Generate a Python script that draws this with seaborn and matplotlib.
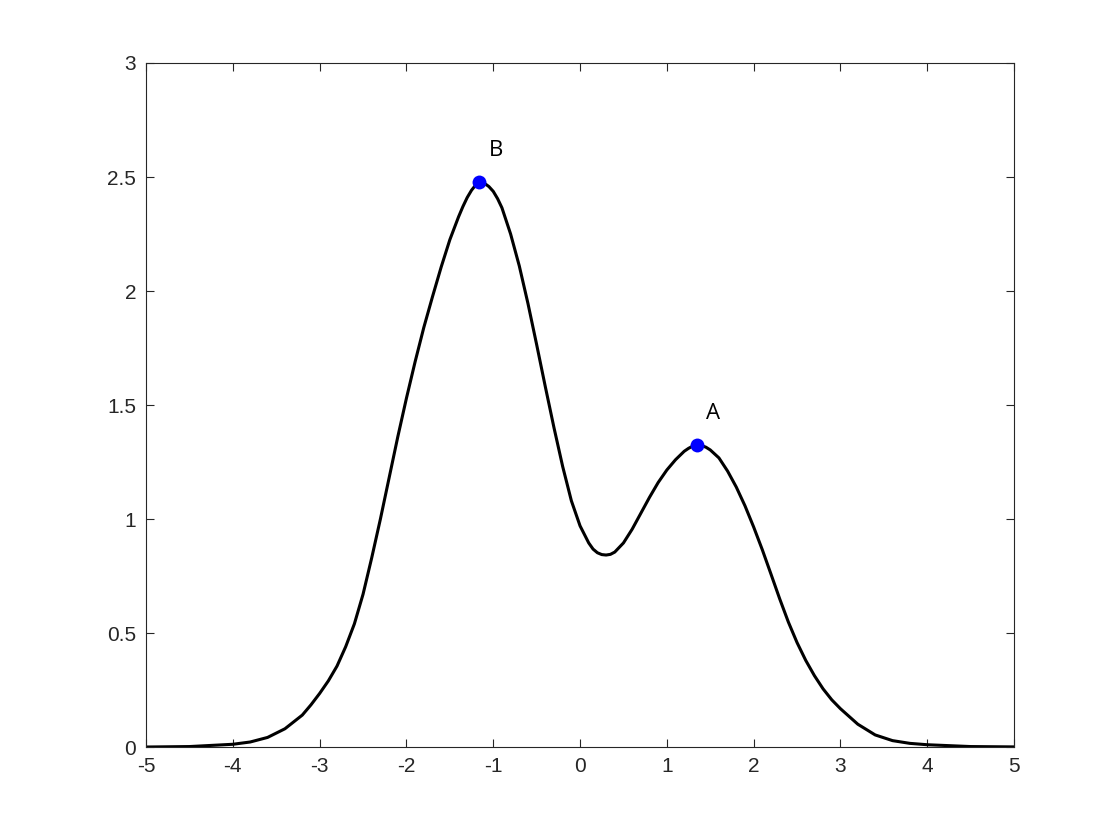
import numpy as np
import pandas as pd
import matplotlib
matplotlib.use("Agg")
import matplotlib.pyplot as plt
import seaborn as sns

# Curve values
curve_x = [-5.0, -4.5, -4.0, -3.8, -3.6, -3.4, -3.2, -3.1, -3.0, -2.9,
           -2.8, -2.7, -2.6, -2.5, -2.4, -2.3, -2.2, -2.1, -2.0, -1.9,
           -1.8, -1.7, -1.6, -1.5, -1.4, -1.35, -1.3, -1.25, -1.2, -1.16,
           -1.1, -1.05, -1.0, -0.95, -0.9, -0.8, -0.7, -0.6, -0.5, -0.4,
           -0.3, -0.2, -0.1, 0.0, 0.1, 0.15, 0.2, 0.25, 0.3, 0.35,
           0.4, 0.5, 0.6, 0.7, 0.8, 0.9, 1.0, 1.1, 1.2, 1.25,
           1.3, 1.344, 1.4, 1.45, 1.5, 1.6, 1.7, 1.8, 1.9, 2.0,
           2.1, 2.2, 2.3, 2.4, 2.5, 2.6, 2.7, 2.8, 2.9, 3.0,
           3.2, 3.4, 3.6, 3.8, 4.0, 4.5, 5.0]
curve_y = [0.000, 0.002, 0.012, 0.022, 0.042, 0.080, 0.140, 0.185, 0.235, 0.290,
           0.355, 0.440, 0.540, 0.670, 0.830, 1.000, 1.180, 1.360, 1.530, 1.690,
           1.840, 1.975, 2.105, 2.225, 2.325, 2.370, 2.410, 2.442, 2.466, 2.478,
           2.472, 2.458, 2.437, 2.405, 2.365, 2.250, 2.110, 1.945, 1.765, 1.580,
           1.400, 1.230, 1.080, 0.970, 0.895, 0.868, 0.852, 0.844, 0.842, 0.845,
           0.855, 0.895, 0.955, 1.025, 1.095, 1.160, 1.215, 1.260, 1.297, 1.310,
           1.320, 1.325, 1.322, 1.315, 1.303, 1.268, 1.210, 1.140, 1.058, 0.965,
           0.865, 0.758, 0.650, 0.548, 0.458, 0.380, 0.313, 0.255, 0.207, 0.168,
           0.100, 0.053, 0.028, 0.016, 0.010, 0.002, 0.0005]

peak_labels = ["B", "A"]
peak_x = [-1.16, 1.344]
peak_y = [2.478, 1.325]

x_ticks = [-5, -4, -3, -2, -1, 0, 1, 2, 3, 4, 5]
y_ticks = [0, 0.5, 1, 1.5, 2, 2.5, 3]
y_tick_labels = ["0", "0.5", "1", "1.5", "2", "2.5", "3"]

sns.set_style("ticks")
plt.rcParams['font.family'] = ['Liberation Sans', 'DejaVu Sans']

fig = plt.figure(figsize=(11.2, 8.4), dpi=100)
ax = fig.add_axes([0.1304, 0.1107, 0.775, 0.8143])

df = pd.DataFrame({"x": curve_x, "y": curve_y})
sns.lineplot(data=df, x="x", y="y", ax=ax, color="black", linewidth=2.2,
             sort=False, estimator=None)

pk = pd.DataFrame({"x": peak_x, "y": peak_y, "label": peak_labels})
sns.scatterplot(data=pk, x="x", y="y", ax=ax, color="#0000ff", s=100,
                edgecolor="#0000ff", linewidth=0, zorder=5)

for lab, px, py in zip(peak_labels, peak_x, peak_y):
    ax.text(px + 0.11, py + 0.115, lab, fontsize=16, family=['Open Sans', 'DejaVu Sans'],
            ha="left", va="baseline", color="black")

ax.set_xlim(-5, 5)
ax.set_ylim(0, 3)
ax.set_xticks(x_ticks)
ax.set_xticklabels([str(t) for t in x_ticks])
ax.set_yticks(y_ticks)
ax.set_yticklabels(y_tick_labels)
ax.set_xlabel("")
ax.set_ylabel("")

for s in ax.spines.values():
    s.set_visible(True)
    s.set_color("#262626")
    s.set_linewidth(0.8)
ax.tick_params(direction="in", length=6, width=0.8, color="#262626",
               labelsize=15, labelcolor="#262626", top=True, right=True, pad=7)

fig.savefig("out.png", dpi=100, facecolor="white")
